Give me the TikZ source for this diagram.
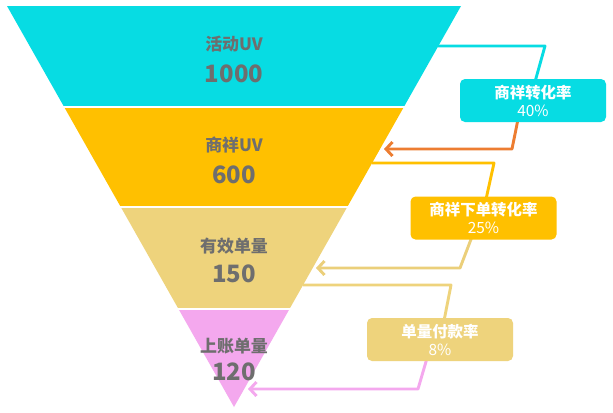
\documentclass[tikz,border=0pt]{standalone}
\usepackage{fontspec}
\setmainfont{Noto Sans CJK SC}
\usetikzlibrary{arrows.meta,calc}
\definecolor{cyband}{HTML}{07DCE3}
\definecolor{yelband}{HTML}{FFC000}
\definecolor{tanband}{HTML}{EED37C}
\definecolor{pnkband}{HTML}{F4A8EE}
\definecolor{orgline}{HTML}{ED7D31}
\definecolor{tanline}{HTML}{EBCF7A}
\definecolor{txtgray}{HTML}{6E6E6E}
\tikzset{
  bandlbl/.style={font=\fontsize{17}{20}\selectfont\bfseries, text=txtgray, inner sep=0pt},
  bandnum/.style={font=\fontsize{24}{28}\selectfont\bfseries, text=txtgray, inner sep=0pt},
  ratebox/.style={rounded corners=5bp, minimum width=146bp, minimum height=43bp, inner sep=0pt,
    align=center, text=white, font=\fontsize{15.5}{18}\selectfont},
  conn/.style={line width=2.9bp, line join=round},
  arr/.style={-{Straight Barb[length=6.5bp,width=14bp,line width=2.9bp]}}
}
\begin{document}
\begin{tikzpicture}[x=1bp,y=-1bp]
\useasboundingbox (0,0) rectangle (613,412);
\fill[white] (0,0) rectangle (613,412);
% funnel bands
\begin{scope}
  \clip (7,6) -- (461,6) -- (234,407) -- cycle;
  \fill[cyband] (0,6) rectangle (470,106);
  \fill[yelband] (0,108) rectangle (470,206);
  \fill[tanband] (0,208) rectangle (470,308);
  \fill[pnkband] (0,310) rectangle (470,410);
\end{scope}
% band labels
\node[bandlbl] (l1) at (234,44) {活动UV};
\node[bandnum] (n1) at (234,74) {1000};
\node[bandlbl] (l2) at (234,145) {商祥UV};
\node[bandnum] (n2) at (234,175) {600};
\node[bandlbl] (l3) at (234,246) {有效单量};
\node[bandnum] (n3) at (234,274) {150};
\node[bandlbl] (l4) at (234,346) {上账单量};
\node[bandnum] (n4) at (234,372) {120};
% edge coordinates
\coordinate (e1) at (438,46);
\coordinate (a1) at (384,149);
\coordinate (e2) at (372,163);
\coordinate (a2) at (316,268);
\coordinate (e3) at (303,285);
\coordinate (a3) at (248,389);
% boxes (positions)
\path (533,100.5) node[ratebox] (b1) {};
\path (483.5,218) node[ratebox] (b2) {};
\path (440,339.5) node[ratebox] (b3) {};
% connectors
\draw[conn, cyband] (e1) -- (545,46) -- ([xshift=2bp,yshift=-3bp]b1.north);
\draw[conn, orgline, arr] ([xshift=-15bp,yshift=3bp]b1.south) -- (512,149) -- (a1);
\draw[conn, yelband] (e2) -- (494,163) -- ([xshift=2.5bp,yshift=-3bp]b2.north);
\draw[conn, tanline, arr] ([xshift=-11.5bp,yshift=3bp]b2.south) -- (460,268) -- (a2);
\draw[conn, tanband] (e3) -- (451,285) -- ([xshift=4bp,yshift=-3bp]b3.north);
\draw[conn, pnkband, arr] ([xshift=-13bp,yshift=3bp]b3.south) -- (418,389) -- (a3);
% boxes on top
\node[ratebox, fill=cyband] at (b1) {{\bfseries 商祥转化率}\\40\%};
\node[ratebox, fill=yelband] at (b2) {{\bfseries 商祥下单转化率}\\25\%};
\node[ratebox, fill=tanband] at (b3) {{\bfseries 单量付款率}\\8\%};
\end{tikzpicture}
\end{document}
